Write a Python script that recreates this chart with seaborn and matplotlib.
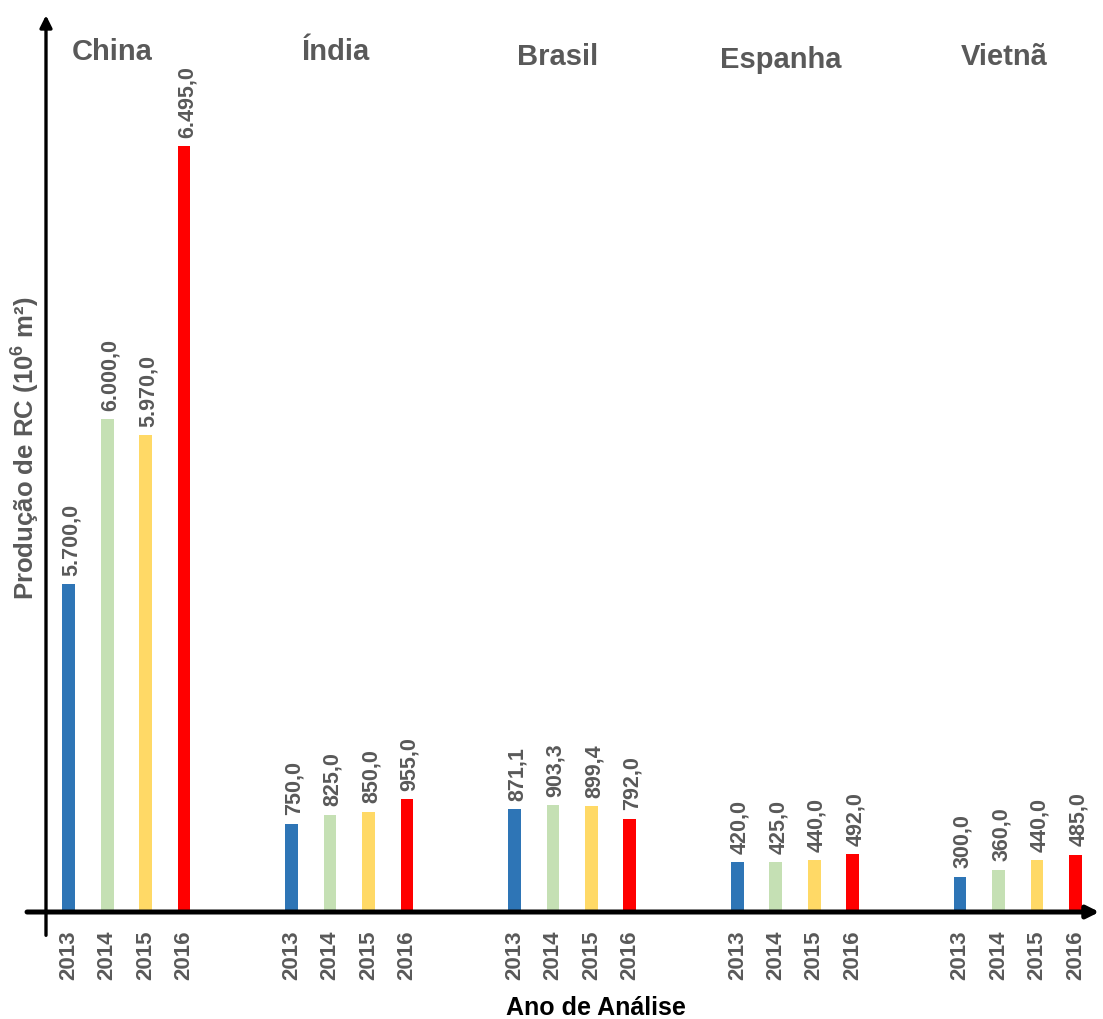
import numpy as np
import pandas as pd
import matplotlib
matplotlib.use("Agg")
import matplotlib.pyplot as plt
import seaborn as sns

# Production of recycled ceramic tiles by country and year (10^6 m²)
countries = ["China", "Índia", "Brasil", "Espanha", "Vietnã"]
years = ["2013", "2014", "2015", "2016"]
china = [5700.0, 6000.0, 5970.0, 6495.0]
india = [750.0, 825.0, 850.0, 955.0]
brasil = [871.1, 903.3, 899.4, 792.0]
espanha = [420.0, 425.0, 440.0, 492.0]
vietna = [300.0, 360.0, 440.0, 485.0]
palette = ["#2E75B6", "#C5E0B4", "#FFD966", "#FF0000"]

series = [china, india, brasil, espanha, vietna]
df = pd.DataFrame(
    [(c, y, v) for c, vals in zip(countries, series) for y, v in zip(years, vals)],
    columns=["pais", "ano", "valor"],
)

sns.set_theme(style="white")
plt.rcParams["font.family"] = ["Liberation Sans", "DejaVu Sans"]
plt.rcParams["font.weight"] = "bold"
plt.rcParams["mathtext.fontset"] = "custom"
plt.rcParams["mathtext.rm"] = "Liberation Sans:bold"
plt.rcParams["mathtext.bf"] = "Liberation Sans:bold"

fig = plt.figure(figsize=(11.03, 10.19), dpi=100)
ax = fig.add_axes([0.0417, 0.105, 0.955, 0.880])

sns.barplot(
    data=df, x="pais", y="valor", hue="ano", hue_order=years,
    palette=palette, width=0.69, gap=0.67, errorbar=None,
    legend=False, ax=ax, saturation=1, linewidth=0,
)

# Broken value axis: small values linear, a compressed stretch, then the tall China range
brk_val = [0.0, 1000.0, 5700.0, 7000.0]
brk_pos = [0.0, 118.0, 328.0, 1044.0]


def fwd(v):
    return np.interp(v, brk_val, brk_pos, left=0.0, right=1044.0)


def inv(p):
    return np.interp(p, brk_pos, brk_val, left=0.0, right=7000.0)


ax.set_yscale("function", functions=(fwd, inv))
ax.set_ylim(0, inv(897.0))
ax.set_xlim(-0.361, 4.366)

for s in ax.spines.values():
    s.set_visible(False)
ax.set_yticks([])

# Value labels above every bar, year labels below
label_color = "#595959"
tick_pos, tick_lab = [], []
for year, cont in zip(years, ax.containers):
    for bar in cont:
        xc = bar.get_x() + bar.get_width() / 2
        h = bar.get_height()
        txt = f"{h:,.1f}".replace(",", "X").replace(".", ",").replace("X", ".")
        ax.annotate(txt, (xc, h), xytext=(2, 6), textcoords="offset points",
                    rotation=90, ha="center", va="bottom", fontsize=15.5,
                    fontweight="bold", color=label_color)
        tick_pos.append(xc)
        tick_lab.append(year)

ax.set_xticks(tick_pos)
ax.set_xticklabels(tick_lab, rotation=90, fontsize=16, fontweight="bold",
                   color=label_color, va="top", ha="center")
ax.tick_params(axis="x", which="major", length=0, pad=13)

step = 0.69 / 4
minor = [i + k * step for i in range(len(countries)) for k in (-2, -1, 0, 1, 2)]
ax.set_xticks(minor, minor=True)
ax.tick_params(axis="x", which="minor", length=6, width=1, color="#c8c8c8",
               direction="out")

# Country titles
title_y = [0.959, 0.959, 0.953, 0.950, 0.953]
for i, (name, ty) in enumerate(zip(countries, title_y)):
    ax.text(i - 0.063, ty, name, transform=ax.get_xaxis_transform(),
            ha="center", va="center", fontsize=21, fontweight="bold",
            color=label_color)

ax.set_xlabel("Ano de Análise", fontsize=18, fontweight="bold", color="black")
ax.xaxis.set_label_coords(0.522, -0.094)
ax.set_ylabel("Produção de RC (10$^{6}$ m²)", fontsize=18.5,
              fontweight="bold", color=label_color, va="center")
ax.yaxis.set_label_coords(-0.02, 0.517)

# Arrow axes
ax.annotate("", xy=(1.0, 0.0), xytext=(-0.018, 0.0), xycoords="axes fraction",
            arrowprops=dict(arrowstyle="-|>", lw=3.6, color="black",
                            mutation_scale=18, shrinkA=0, shrinkB=0),
            annotation_clip=False)
ax.annotate("", xy=(0.0, 1.0), xytext=(0.0, -0.026), xycoords="axes fraction",
            arrowprops=dict(arrowstyle="-|>", lw=2.4, color="black",
                            mutation_scale=18, shrinkA=0, shrinkB=0),
            annotation_clip=False)

fig.savefig("out.png", dpi=100)
